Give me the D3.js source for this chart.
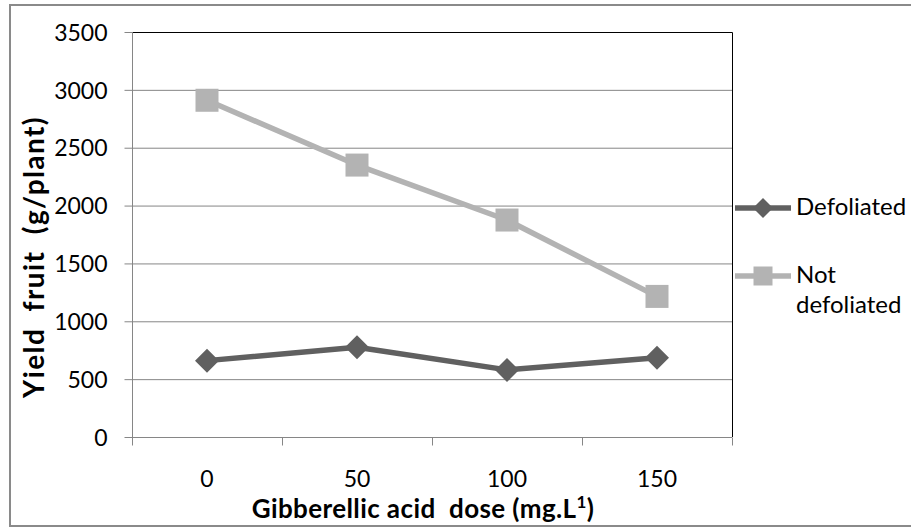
<!DOCTYPE html>
<html>
<head>
<meta charset="utf-8">
<script src="https://cdn.jsdelivr.net/npm/d3@7/dist/d3.min.js"></script>
<style>
  body { margin: 0; background: #fff; }
  text { font-family: Lato, "Open Sans", sans-serif; fill: #000; white-space: pre; }
</style>
</head>
<body>
<svg id="chart" width="911" height="527"></svg>
<script>
const doses = ['0', '50', '100', '150'];
const defoliated = [660, 775, 580, 685];
const notDefoliated = [2910, 2350, 1875, 1215];
const yTicks = [0, 500, 1000, 1500, 2000, 2500, 3000, 3500];

const series = [
  { name: 'Defoliated', values: defoliated, color: '#606060', marker: 'diamond' },
  { name: 'Not defoliated', values: notDefoliated, color: '#b3b3b3', marker: 'square' }
];

const plot = { left: 132, top: 32, right: 732, bottom: 437 };
const svg = d3.select('#chart');

// outer chart frame (right edge is cut off in the reference)
svg.append('path')
  .attr('d', 'M 930 5 H 10 V 526 H 930')
  .attr('fill', 'none')
  .attr('stroke', '#8a8a8a')
  .attr('stroke-width', 2);

const x = d3.scaleBand().domain(doses).range([plot.left, plot.right]);
const y = d3.scaleLinear().domain([0, 3500]).range([plot.bottom, plot.top]);

// gridlines
svg.append('g')
  .selectAll('line')
  .data(yTicks.slice(1, -1))
  .enter()
  .append('line')
  .attr('x1', plot.left).attr('x2', plot.right)
  .attr('y1', d => y(d) + 0.5).attr('y2', d => y(d) + 0.5)
  .attr('stroke', '#868686');

// plot area border top/right
svg.append('path')
  .attr('d', `M ${plot.left} ${plot.top + 0.5} H ${plot.right + 0.5} V ${plot.bottom}`)
  .attr('fill', 'none')
  .attr('stroke', '#000');

// y axis
const yAxis = svg.append('g')
  .attr('transform', `translate(${plot.left + 0.5},0)`)
  .call(d3.axisLeft(y).tickValues(yTicks).tickFormat(d3.format('d'))
    .tickSize(8).tickPadding(17).tickSizeOuter(0));
yAxis.selectAll('line, path').attr('stroke', '#868686');
yAxis.select('.domain').attr('d', `M0,${plot.top}V${plot.bottom}`);
yAxis.selectAll('text').attr('font-size', 23).attr('font-family', 'Lato, sans-serif')
  .attr('dy', '0.36em');

// x axis: ticks between categories
const xAxis = svg.append('g')
  .attr('transform', `translate(0,${plot.bottom + 0.5})`)
  .call(d3.axisBottom(x).tickSize(0));
xAxis.select('.domain').attr('stroke', '#868686').attr('d', `M${plot.left},0H${plot.right}`);
xAxis.selectAll('text').attr('font-size', 23).attr('font-family', 'Lato, sans-serif')
  .attr('y', 49).attr('dy', 0);
xAxis.selectAll('.sep')
  .data(d3.range(doses.length + 1))
  .enter()
  .append('line')
  .attr('x1', i => plot.left + i * x.step() + 0.5)
  .attr('x2', i => plot.left + i * x.step() + 0.5)
  .attr('y1', 0).attr('y2', 8)
  .attr('stroke', '#868686');

// axis titles
svg.append('text')
  .attr('transform', 'translate(44,257) rotate(-90)')
  .attr('text-anchor', 'middle')
  .attr('font-size', 28).attr('font-weight', 'bold')
  .attr('letter-spacing', 1.4)
  .text('Yield  fruit  (g/plant)');

const xt = svg.append('text')
  .attr('x', 423)
  .attr('y', 518)
  .attr('text-anchor', 'middle')
  .attr('font-size', 26).attr('font-weight', 'bold')
  .attr('letter-spacing', 0.4);
xt.append('tspan').text('Gibberellic acid  dose (mg.L');
xt.append('tspan').attr('font-size', 17).attr('dy', -10).text('1');
xt.append('tspan').attr('dy', 10).text(')');

function drawMarker(sel, kind, color, r) {
  if (kind === 'diamond') {
    sel.append('path').attr('d', `M0,${-r} L${r},0 L0,${r} L${-r},0 Z`).attr('fill', color);
  } else {
    const h = r - 0.5;
    sel.append('rect').attr('x', -h).attr('y', -h).attr('width', 2 * h).attr('height', 2 * h).attr('fill', color);
  }
}

const line = d3.line()
  .x((d, i) => x(doses[i]) + x.bandwidth() / 2)
  .y(d => y(d));

series.forEach(s => {
  svg.append('path')
    .datum(s.values)
    .attr('d', line)
    .attr('fill', 'none')
    .attr('stroke', s.color)
    .attr('stroke-width', 5.5)
    .attr('stroke-linejoin', 'round');
  s.values.forEach((v, i) => {
    const g = svg.append('g')
      .attr('transform', `translate(${x(doses[i]) + x.bandwidth() / 2},${y(v)})`);
    drawMarker(g, s.marker, s.color, 12);
  });
});

// legend
const legend = [
  { s: series[0], y: 208, lines: ['Defoliated'] },
  { s: series[1], y: 276, lines: ['Not', 'defoliated'] }
];
legend.forEach(l => {
  svg.append('line')
    .attr('x1', 735).attr('x2', 791)
    .attr('y1', l.y).attr('y2', l.y)
    .attr('stroke', l.s.color).attr('stroke-width', 5.5);
  const g = svg.append('g').attr('transform', `translate(763,${l.y})`);
  drawMarker(g, l.s.marker, l.s.color, 10);
  const t = svg.append('text').attr('x', 796).attr('y', l.y + 7).attr('font-size', 24);
  l.lines.forEach((txt, i) => {
    t.append('tspan').attr('x', 796).attr('dy', i === 0 ? 0 : 30).text(txt);
  });
});
</script>
</body>
</html>
